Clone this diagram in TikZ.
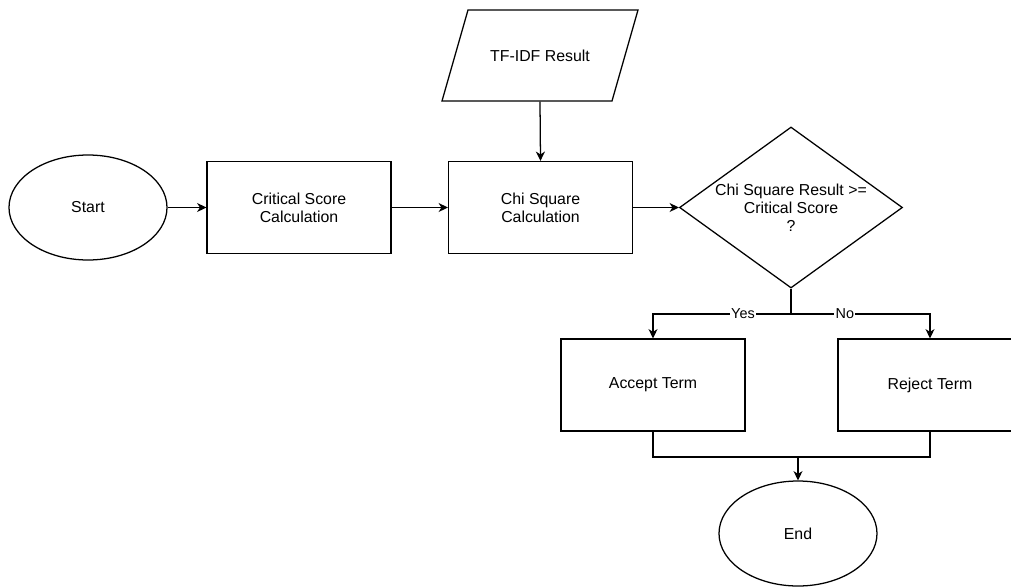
\documentclass[tikz,border=0pt]{standalone}
\usepackage{fontspec}
\setmainfont{Liberation Sans}
\usetikzlibrary{shapes.geometric,arrows.meta}

\tikzset{
  every node/.style={font=\fontsize{11.9}{13.6}\selectfont, align=center, line width=0.95pt},
  process/.style={draw, rectangle, minimum width=138pt, minimum height=69pt, inner sep=0pt},
  terminal/.style={draw, ellipse, minimum width=118.5pt, minimum height=78.75pt, inner sep=0pt},
  decision/.style={draw, diamond, minimum width=167.25pt, minimum height=120.75pt, inner sep=0pt},
  datanode/.style={rectangle, minimum width=127.5pt, minimum height=68.25pt, inner sep=0pt},
  flow/.style={line width=0.95pt, -{Stealth[length=7pt,width=6.8pt,inset=2.2pt]}},
  plain/.style={line width=0.95pt},
  edgelabel/.style={fill=white, inner sep=1pt, font=\fontsize{10.8}{12}\selectfont}
}

\begin{document}
\begin{tikzpicture}[x=0.75pt, y=-0.75pt]
  \clip (0,0) rectangle (1011,586);
  \fill[white] (0,0) rectangle (1011,586);

  % main row
  \node[terminal] (start) at (88,207.5) {Start};
  \node[process] (crit) at (299,207.5) {Critical Score\\Calculation};
  \node[process] (chi) at (540.5,207.5) {Chi Square\\Calculation};
  \node[decision] (dec) at (791,207.5) {};
  \node (dectext) at (dec.center) {Chi Square Result >=\\Critical Score\\?};

  % input data (parallelogram)
  \node[datanode] (tfidf) at (540,55.5) {TF-IDF Result};
  \draw[plain] (468,10) -- (638,10) -- (612,101) -- (442,101) -- cycle;

  % outcomes
  \node[process] (accept) at (653,385) {Accept Term};
  \node[process] (reject) at (930,385) {Reject Term};
  \node[terminal] (end) at (798,533.5) {End};

  \coordinate (branch) at (791,314);
  \coordinate (merge) at (798,457);

  % connectors
  \draw[flow] (start) -- (crit);
  \draw[flow] (crit) -- (chi);
  \draw[flow] (chi) -- (dec);
  \draw[flow] (tfidf.south) -- (chi.north);

  \draw[plain] (dec.south) -- (branch);
  \draw[flow] (branch) -| node[edgelabel, pos=0.174] {Yes} (accept.north);
  \draw[flow] (branch) -| node[edgelabel, pos=0.194] {No} (reject.north);

  \draw[plain] (accept.south) |- (merge) -| (reject.south);
  \draw[flow] (merge) -- (end.north);
\end{tikzpicture}
\end{document}
